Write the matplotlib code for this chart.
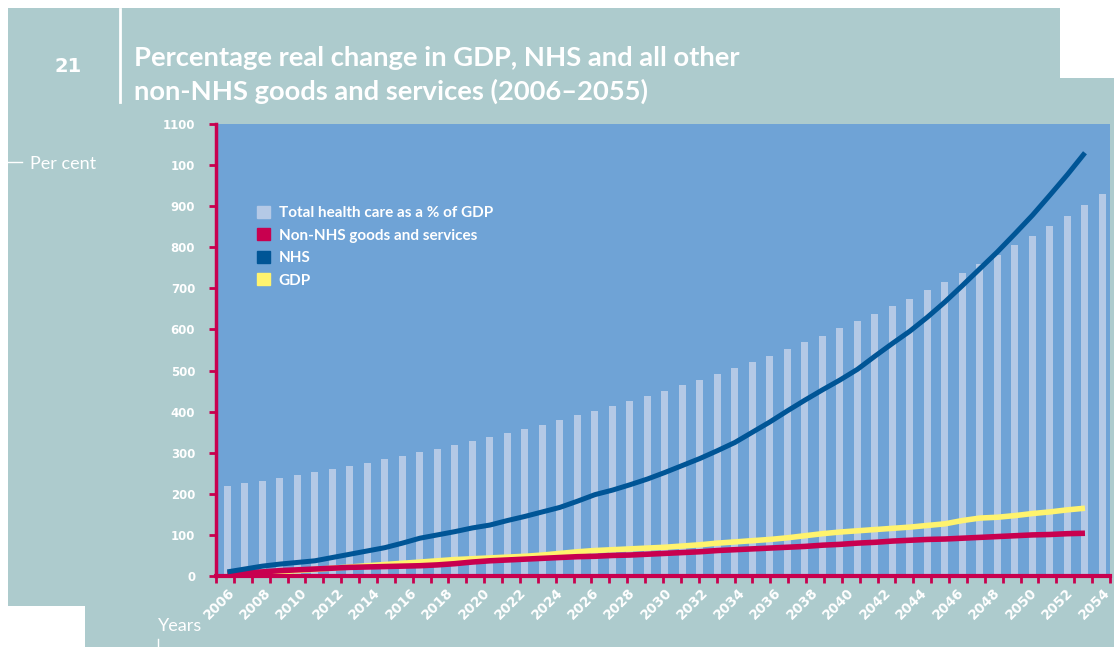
import numpy as np
import matplotlib.pyplot as plt
from matplotlib.patches import Rectangle, Patch
from matplotlib.lines import Line2D

# values (per cent)
health_share = [219, 226, 231, 238, 246, 253, 260, 268, 275, 285,
                292, 302, 309, 319, 329, 338, 348, 358, 367, 380,
                392, 401, 414, 426, 438, 450, 465, 477, 491, 506,
                521, 535, 552, 569, 584, 604, 621, 638, 657, 674,
                696, 715, 737, 759, 781, 806, 827, 852, 876, 903, 929]
nhs = [10, 17, 24, 29, 33, 37, 45, 53, 61, 69,
       80, 92, 100, 108, 117, 124, 135, 145, 156, 167,
       182, 198, 209, 222, 236, 252, 269, 286, 305, 325,
       350, 375, 402, 428, 453, 477, 503, 535, 566, 596,
       630, 667, 707, 748, 789, 833, 878, 927, 977, 1030]
non_nhs = [6, 8, 10, 13, 15, 17, 19, 21, 22, 23,
           24, 25, 27, 30, 34, 37, 39, 41, 43, 45,
           47, 48, 50, 51, 53, 55, 57, 59, 62, 64,
           66, 68, 70, 72, 75, 77, 80, 82, 85, 87,
           89, 90, 92, 94, 96, 98, 100, 101, 103, 104]
gdp = [3, 5, 8, 10, 13, 16, 19, 22, 25, 28,
       31, 34, 37, 40, 42, 44, 46, 48, 51, 55,
       59, 62, 64, 66, 68, 70, 73, 76, 80, 83,
       86, 89, 93, 98, 103, 107, 110, 113, 116, 119,
       123, 127, 135, 141, 143, 147, 152, 156, 161, 165]
year_labels = [str(y) for y in range(2006, 2055, 2)]
y_ticks = list(range(0, 1101, 100))
y_tick_labels = ['0', '100', '200', '300', '400', '500', '600', '700',
                 '800', '900', '100', '1100']

teal = '#adcbcd'
plot_bg = '#6fa3d6'
bar_col = '#b4c9e6'
nhs_col = '#005596'
pink = '#c8004f'
yellow = '#fff36e'

W, H = 1114, 647
fig = plt.figure(figsize=(W / 100, H / 100), dpi=100)
fig.patch.set_facecolor('white')


def fig_box(x0, y0, x1, y1):
    # pixel box (from top-left) -> figure fraction
    return [x0 / W, 1 - y1 / H, (x1 - x0) / W, (y1 - y0) / H]


for x0, y0, x1, y1 in [(8, 8, 1060, 606), (85, 78, W, H)]:
    b = fig_box(x0, y0, x1, y1)
    fig.patches.append(Rectangle((b[0], b[1]), b[2], b[3], transform=fig.transFigure,
                                 facecolor=teal, edgecolor='none', zorder=-10))

ax = fig.add_axes(fig_box(216, 124, 1110, 576))
ax.set_zorder(1)
ax.set_facecolor(plot_bg)

xb = np.arange(len(health_share))
xl = np.arange(len(nhs))
ax.bar(xb, health_share, width=0.4, color=bar_col, zorder=1)
ax.plot(xl, gdp, color=yellow, lw=4, zorder=2, solid_capstyle='butt')
ax.plot(xl, non_nhs, color=pink, lw=4, zorder=3, solid_capstyle='butt')
ax.plot(xl, nhs, color=nhs_col, lw=3.6, zorder=4, solid_capstyle='butt')

x0, x1 = -0.65, len(health_share) - 1 + 0.43
ax.set_xlim(x0, x1)
ax.set_ylim(0, 1100)

ax.set_yticks(y_ticks, y_tick_labels)
ax.set_xticks(np.linspace(0, len(health_share) - 1, len(year_labels)), year_labels,
              rotation=45, ha='right', rotation_mode='anchor')
ax.set_xticks(np.linspace(x0, x1, len(nhs) + 1), minor=True)
ax.tick_params(axis='x', which='major', length=0, pad=7)
ax.tick_params(axis='x', which='minor', length=5, width=2, color=pink)
ax.tick_params(axis='y', length=5, width=2, color=pink, pad=10)
for lab in ax.get_yticklabels():
    lab.set_color('white')
    lab.set_fontweight('bold')
    lab.set_fontsize(8.5)
    lab.set_family('DejaVu Sans')
for lab in ax.get_xticklabels():
    lab.set_color('white')
    lab.set_fontweight('bold')
    lab.set_fontsize(9.8)
    lab.set_family('DejaVu Sans')

for s in ['top', 'right']:
    ax.spines[s].set_visible(False)
ax.spines['left'].set_color(pink)
ax.spines['left'].set_linewidth(2.5)
ax.spines['bottom'].set_color(pink)
ax.spines['bottom'].set_linewidth(3)

handles = [Patch(color=bar_col), Patch(color=pink), Patch(color=nhs_col), Patch(color=yellow)]
names = ['Total health care as a % of GDP', 'Non-NHS goods and services', 'NHS', 'GDP']
leg = ax.legend(handles, names, loc='upper left', bbox_to_anchor=(0.046, 0.819),
                frameon=False, borderpad=0, borderaxespad=0, handlelength=0.85,
                handleheight=0.85, handletextpad=0.55, labelspacing=0.53,
                prop={'family': 'Lato', 'weight': 'bold', 'size': 11})
for t in leg.get_texts():
    t.set_color('white')

# header and side texts
fig.text(68.5 / W, 1 - 67 / H, '21', ha='center', va='center', color='white',
         fontsize=14, fontweight='bold', family='DejaVu Sans')
fig.lines.append(Line2D([120 / W, 120 / W], [1 - 9 / H, 1 - 102 / H],
                        transform=fig.transFigure, color='white', lw=2))
fig.text(134 / W, 1 - 66 / H, 'Percentage real change in GDP, NHS and all other',
         ha='left', va='baseline', color='white', fontsize=19.7, fontweight='bold',
         family='Lato')
fig.text(134 / W, 1 - 100 / H, 'non-NHS goods and services (2006\u20132055)',
         ha='left', va='baseline', color='white', fontsize=19.7, fontweight='bold',
         family='Lato')
fig.text(30 / W, 1 - 169 / H, 'Per cent', ha='left', va='baseline', color='white',
         fontsize=13, family='Lato')
fig.lines.append(Line2D([8 / W, 22 / W], [1 - 162 / H, 1 - 162 / H],
                        transform=fig.transFigure, color='white', lw=1))
fig.text(158 / W, 1 - 631 / H, 'Years', ha='left', va='baseline', color='white',
         fontsize=13, family='Lato')
fig.lines.append(Line2D([158 / W, 158 / W], [1 - 639 / H, 0],
                        transform=fig.transFigure, color='white', lw=1))

fig.savefig('out.png', dpi=100, facecolor=fig.get_facecolor())
